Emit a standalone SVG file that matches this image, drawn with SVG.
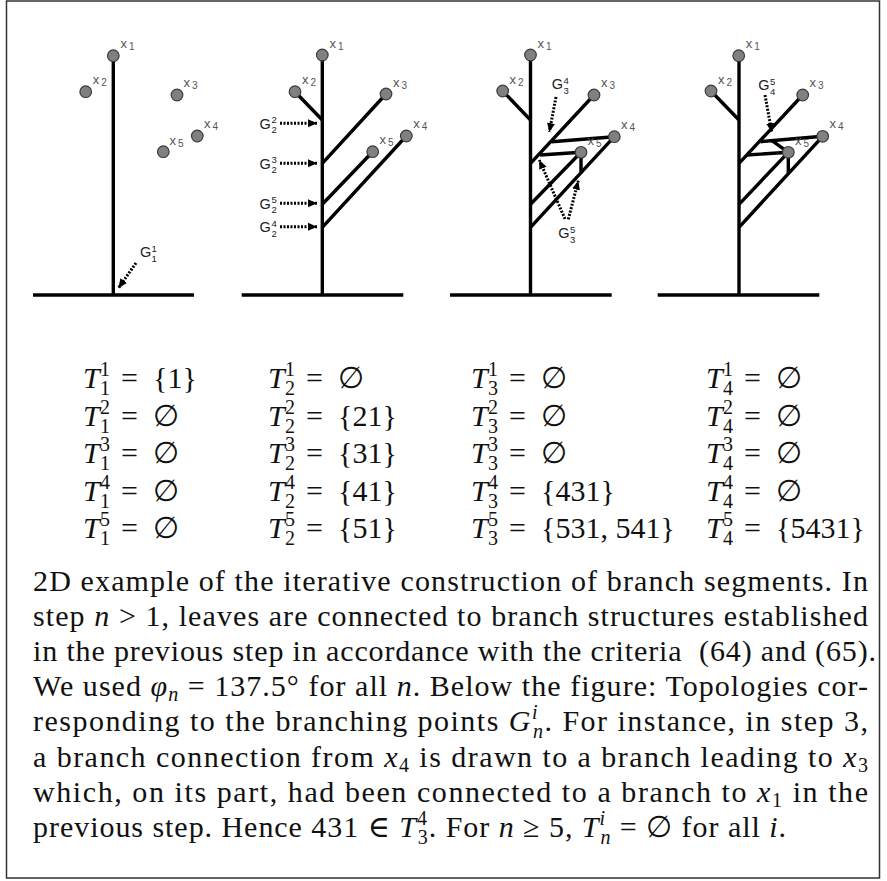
<svg xmlns="http://www.w3.org/2000/svg" width="887" height="881" viewBox="0 0 887 881">
<style>
.frame{fill:#fff;stroke:#333;stroke-width:1.5}
.br{stroke:#000;stroke-width:3.4;fill:none;stroke-linecap:butt}
.gr{stroke:#000;stroke-width:3.4}
.leaf circle{fill:#808080;stroke:#3a3a3a;stroke-width:1.2}
.lbl{font-family:"Liberation Sans",Arial,sans-serif;font-size:13px;fill:#555}
.lbl .d{font-size:10px}
.g{font-family:"Liberation Sans",Arial,sans-serif;font-size:14.5px;fill:#222}
.g .s{font-size:9.5px}
.dot{stroke:#000;stroke-width:3;stroke-dasharray:2 1.5;fill:none}
.m{font-family:"Liberation Serif","DejaVu Serif",serif;font-size:30px;fill:#111}
.it{font-style:italic}
.sm{font-size:20px}
.cap{font-family:"Liberation Serif","DejaVu Serif",serif;font-size:30px;fill:#111}
</style>
<defs>
<marker id="ah" markerWidth="10" markerHeight="10" refX="9" refY="5" orient="auto" markerUnits="userSpaceOnUse">
<path d="M0,1 L9,5 L0,9 z" fill="#000"/>
</marker>
</defs>
<rect class="frame" x="6.5" y="1" width="873" height="877"/>

<!-- Panel 1 -->
<g id="panel1">
<g id="p1-connectors">
<line class="gr" x1="33" y1="295" x2="194" y2="295"/>
<line class="br" x1="113.3" y1="56" x2="113.3" y2="295"/>
<line class="dot" x1="136" y1="263" x2="118.5" y2="288" marker-end="url(#ah)"/>
</g>
<g id="p1-x1" class="leaf"><circle cx="113.3" cy="55.7" r="5.8"/><text class="lbl" x="120.5" y="48">x<tspan class="d" dx="2" dy="2">1</tspan></text></g>
<g id="p1-x2" class="leaf"><circle cx="85.7" cy="91.7" r="5.8"/><text class="lbl" x="92.7" y="84">x<tspan class="d" dx="2" dy="2">2</tspan></text></g>
<g id="p1-x3" class="leaf"><circle cx="177" cy="95" r="5.8"/><text class="lbl" x="183.5" y="87">x<tspan class="d" dx="2" dy="2">3</tspan></text></g>
<g id="p1-x4" class="leaf"><circle cx="197.3" cy="136" r="5.8"/><text class="lbl" x="204" y="127.5">x<tspan class="d" dx="2" dy="2">4</tspan></text></g>
<g id="p1-x5" class="leaf"><circle cx="163.3" cy="151.7" r="5.8"/><text class="lbl" x="169.5" y="144.5">x<tspan class="d" dx="2" dy="2">5</tspan></text></g>
<g id="p1-G11"><text class="g" x="140" y="257">G<tspan class="s" x="151.5" dy="-5.5">1</tspan><tspan class="s" x="151.5" dy="10">1</tspan></text></g>
</g>

<!-- Panel 2 -->
<g id="panel2">
<g id="p2-connectors">
<line class="gr" x1="241.7" y1="295" x2="403.3" y2="295"/>
<line class="br" x1="322.3" y1="55" x2="322.3" y2="295"/>
<line class="br" x1="295" y1="91.7" x2="322.3" y2="120"/>
<line class="br" x1="386" y1="94" x2="322.3" y2="163.3"/>
<line class="br" x1="372.7" y1="151.7" x2="322.3" y2="204.3"/>
<line class="br" x1="406.3" y1="136" x2="322.3" y2="227.3"/>
<line class="dot" x1="280" y1="123.3" x2="317" y2="123.3" marker-end="url(#ah)"/>
<line class="dot" x1="280" y1="163.3" x2="317" y2="163.3" marker-end="url(#ah)"/>
<line class="dot" x1="280" y1="203.3" x2="317" y2="203.3" marker-end="url(#ah)"/>
<line class="dot" x1="280" y1="226.7" x2="317" y2="226.7" marker-end="url(#ah)"/>
</g>
<g id="p2-x1" class="leaf"><circle cx="322.3" cy="55" r="5.8"/><text class="lbl" x="329.5" y="47.5">x<tspan class="d" dx="2" dy="2">1</tspan></text></g>
<g id="p2-x2" class="leaf"><circle cx="295" cy="91.7" r="5.8"/><text class="lbl" x="302" y="84">x<tspan class="d" dx="2" dy="2">2</tspan></text></g>
<g id="p2-x3" class="leaf"><circle cx="386" cy="94" r="5.8"/><text class="lbl" x="393" y="86.5">x<tspan class="d" dx="2" dy="2">3</tspan></text></g>
<g id="p2-x4" class="leaf"><circle cx="406.3" cy="136" r="5.8"/><text class="lbl" x="413.3" y="128">x<tspan class="d" dx="2" dy="2">4</tspan></text></g>
<g id="p2-x5" class="leaf"><circle cx="372.7" cy="151.7" r="5.8"/><text class="lbl" x="379.5" y="144">x<tspan class="d" dx="2" dy="2">5</tspan></text></g>
<g id="p2-G22"><text class="g" x="259.5" y="128.5">G<tspan class="s" x="271.5" dy="-5.5">2</tspan><tspan class="s" x="271.5" dy="10">2</tspan></text></g>
<g id="p2-G23"><text class="g" x="259.5" y="168.5">G<tspan class="s" x="271.5" dy="-5.5">3</tspan><tspan class="s" x="271.5" dy="10">2</tspan></text></g>
<g id="p2-G25"><text class="g" x="259.5" y="208.5">G<tspan class="s" x="271.5" dy="-5.5">5</tspan><tspan class="s" x="271.5" dy="10">2</tspan></text></g>
<g id="p2-G24"><text class="g" x="259.5" y="232">G<tspan class="s" x="271.5" dy="-5.5">4</tspan><tspan class="s" x="271.5" dy="10">2</tspan></text></g>
</g>

<!-- Panel 3 -->
<g id="panel3">
<g id="p3-connectors">
<line class="gr" x1="450" y1="295" x2="611.7" y2="295"/>
<line class="br" x1="530.5" y1="55" x2="530.5" y2="295"/>
<line class="br" x1="502.7" y1="91" x2="530.5" y2="120"/>
<line class="br" x1="594" y1="95" x2="530.5" y2="163.3"/>
<line class="br" x1="581" y1="152.3" x2="530.5" y2="204.3"/>
<line class="br" x1="614.3" y1="136.7" x2="530.5" y2="227.3"/>
<line class="br" x1="614.3" y1="136.7" x2="551.7" y2="141.7"/>
<line class="br" x1="581" y1="152.3" x2="540" y2="155"/>
<line class="br" x1="581" y1="152.3" x2="581" y2="173.3"/>
<line class="dot" x1="556" y1="97" x2="549.3" y2="132" marker-end="url(#ah)"/>
<line class="dot" x1="565" y1="219" x2="539.3" y2="160" marker-end="url(#ah)"/>
<line class="dot" x1="568.3" y1="219.3" x2="578.3" y2="180.7" marker-end="url(#ah)"/>
</g>
<g id="p3-x1" class="leaf"><circle cx="530.5" cy="55" r="5.8"/><text class="lbl" x="537.5" y="47.5">x<tspan class="d" dx="2" dy="2">1</tspan></text></g>
<g id="p3-x2" class="leaf"><circle cx="502.7" cy="91" r="5.8"/><text class="lbl" x="509.5" y="83.5">x<tspan class="d" dx="2" dy="2">2</tspan></text></g>
<g id="p3-x3" class="leaf"><circle cx="594" cy="95" r="5.8"/><text class="lbl" x="601" y="87">x<tspan class="d" dx="2" dy="2">3</tspan></text></g>
<g id="p3-x4" class="leaf"><circle cx="614.3" cy="136.7" r="5.8"/><text class="lbl" x="621" y="128.5">x<tspan class="d" dx="2" dy="2">4</tspan></text></g>
<g id="p3-x5" class="leaf"><circle cx="581" cy="152.3" r="5.8"/><text class="lbl" x="587.5" y="145">x<tspan class="d" dx="2" dy="2">5</tspan></text></g>
<g id="p3-G34"><text class="g" x="551.7" y="89.3">G<tspan class="s" x="563.5" dy="-5.5">4</tspan><tspan class="s" x="563.5" dy="10">3</tspan></text></g>
<g id="p3-G35"><text class="g" x="558.3" y="238.3">G<tspan class="s" x="570" dy="-5.5">5</tspan><tspan class="s" x="570" dy="10">3</tspan></text></g>
</g>

<!-- Panel 4 -->
<g id="panel4">
<g id="p4-connectors">
<line class="gr" x1="657.7" y1="295" x2="819.3" y2="295"/>
<line class="br" x1="739" y1="56" x2="739" y2="295"/>
<line class="br" x1="711" y1="91" x2="739" y2="120"/>
<line class="br" x1="802.7" y1="95" x2="739" y2="163.3"/>
<line class="br" x1="788.3" y1="152.3" x2="739" y2="204.3"/>
<line class="br" x1="822.7" y1="136.3" x2="739" y2="227.3"/>
<line class="br" x1="822.7" y1="136.3" x2="760.5" y2="141.7"/>
<line class="br" x1="788.3" y1="152.3" x2="747" y2="155"/>
<line class="br" x1="788.3" y1="152.3" x2="788.3" y2="173.3"/>
<line class="br" x1="788.3" y1="152.3" x2="772" y2="140.7"/>
<line class="dot" x1="765" y1="95" x2="771.7" y2="132" marker-end="url(#ah)"/>
</g>
<g id="p4-x1" class="leaf"><circle cx="738.7" cy="55.7" r="5.8"/><text class="lbl" x="745.7" y="48">x<tspan class="d" dx="2" dy="2">1</tspan></text></g>
<g id="p4-x2" class="leaf"><circle cx="711" cy="91" r="5.8"/><text class="lbl" x="718" y="83.5">x<tspan class="d" dx="2" dy="2">2</tspan></text></g>
<g id="p4-x3" class="leaf"><circle cx="802.7" cy="95" r="5.8"/><text class="lbl" x="809.5" y="87">x<tspan class="d" dx="2" dy="2">3</tspan></text></g>
<g id="p4-x4" class="leaf"><circle cx="822.7" cy="136.3" r="5.8"/><text class="lbl" x="829.5" y="128">x<tspan class="d" dx="2" dy="2">4</tspan></text></g>
<g id="p4-x5" class="leaf"><circle cx="788.3" cy="152.3" r="5.8"/><text class="lbl" x="795" y="145">x<tspan class="d" dx="2" dy="2">5</tspan></text></g>
<g id="p4-G45"><text class="g" x="758.3" y="90">G<tspan class="s" x="770" dy="-5.5">5</tspan><tspan class="s" x="770" dy="10">4</tspan></text></g>
</g>

<!-- Topology table -->
<g id="table" class="m">
<text y="388"><tspan x="83" class="it">T</tspan><tspan x="100" dy="-12" class="sm">1</tspan><tspan x="100" dy="19" class="sm">1</tspan><tspan x="121" dy="-7">=</tspan><tspan x="153">{1}</tspan></text>
<text y="425.5"><tspan x="83" class="it">T</tspan><tspan x="100" dy="-12" class="sm">2</tspan><tspan x="100" dy="19" class="sm">1</tspan><tspan x="121" dy="-7">=</tspan><tspan x="153">∅</tspan></text>
<text y="463"><tspan x="83" class="it">T</tspan><tspan x="100" dy="-12" class="sm">3</tspan><tspan x="100" dy="19" class="sm">1</tspan><tspan x="121" dy="-7">=</tspan><tspan x="153">∅</tspan></text>
<text y="500.5"><tspan x="83" class="it">T</tspan><tspan x="100" dy="-12" class="sm">4</tspan><tspan x="100" dy="19" class="sm">1</tspan><tspan x="121" dy="-7">=</tspan><tspan x="153">∅</tspan></text>
<text y="538"><tspan x="83" class="it">T</tspan><tspan x="100" dy="-12" class="sm">5</tspan><tspan x="100" dy="19" class="sm">1</tspan><tspan x="121" dy="-7">=</tspan><tspan x="153">∅</tspan></text>

<text y="388"><tspan x="268" class="it">T</tspan><tspan x="285" dy="-12" class="sm">1</tspan><tspan x="285" dy="19" class="sm">2</tspan><tspan x="306" dy="-7">=</tspan><tspan x="338">∅</tspan></text>
<text y="425.5"><tspan x="268" class="it">T</tspan><tspan x="285" dy="-12" class="sm">2</tspan><tspan x="285" dy="19" class="sm">2</tspan><tspan x="306" dy="-7">=</tspan><tspan x="338">{21}</tspan></text>
<text y="463"><tspan x="268" class="it">T</tspan><tspan x="285" dy="-12" class="sm">3</tspan><tspan x="285" dy="19" class="sm">2</tspan><tspan x="306" dy="-7">=</tspan><tspan x="338">{31}</tspan></text>
<text y="500.5"><tspan x="268" class="it">T</tspan><tspan x="285" dy="-12" class="sm">4</tspan><tspan x="285" dy="19" class="sm">2</tspan><tspan x="306" dy="-7">=</tspan><tspan x="338">{41}</tspan></text>
<text y="538"><tspan x="268" class="it">T</tspan><tspan x="285" dy="-12" class="sm">5</tspan><tspan x="285" dy="19" class="sm">2</tspan><tspan x="306" dy="-7">=</tspan><tspan x="338">{51}</tspan></text>

<text y="388"><tspan x="471" class="it">T</tspan><tspan x="488" dy="-12" class="sm">1</tspan><tspan x="488" dy="19" class="sm">3</tspan><tspan x="509" dy="-7">=</tspan><tspan x="541">∅</tspan></text>
<text y="425.5"><tspan x="471" class="it">T</tspan><tspan x="488" dy="-12" class="sm">2</tspan><tspan x="488" dy="19" class="sm">3</tspan><tspan x="509" dy="-7">=</tspan><tspan x="541">∅</tspan></text>
<text y="463"><tspan x="471" class="it">T</tspan><tspan x="488" dy="-12" class="sm">3</tspan><tspan x="488" dy="19" class="sm">3</tspan><tspan x="509" dy="-7">=</tspan><tspan x="541">∅</tspan></text>
<text y="500.5"><tspan x="471" class="it">T</tspan><tspan x="488" dy="-12" class="sm">4</tspan><tspan x="488" dy="19" class="sm">3</tspan><tspan x="509" dy="-7">=</tspan><tspan x="541">{431}</tspan></text>
<text y="538"><tspan x="471" class="it">T</tspan><tspan x="488" dy="-12" class="sm">5</tspan><tspan x="488" dy="19" class="sm">3</tspan><tspan x="509" dy="-7">=</tspan><tspan x="541">{531, 541}</tspan></text>

<text y="388"><tspan x="706" class="it">T</tspan><tspan x="723" dy="-12" class="sm">1</tspan><tspan x="723" dy="19" class="sm">4</tspan><tspan x="744" dy="-7">=</tspan><tspan x="776">∅</tspan></text>
<text y="425.5"><tspan x="706" class="it">T</tspan><tspan x="723" dy="-12" class="sm">2</tspan><tspan x="723" dy="19" class="sm">4</tspan><tspan x="744" dy="-7">=</tspan><tspan x="776">∅</tspan></text>
<text y="463"><tspan x="706" class="it">T</tspan><tspan x="723" dy="-12" class="sm">3</tspan><tspan x="723" dy="19" class="sm">4</tspan><tspan x="744" dy="-7">=</tspan><tspan x="776">∅</tspan></text>
<text y="500.5"><tspan x="706" class="it">T</tspan><tspan x="723" dy="-12" class="sm">4</tspan><tspan x="723" dy="19" class="sm">4</tspan><tspan x="744" dy="-7">=</tspan><tspan x="776">∅</tspan></text>
<text y="538"><tspan x="706" class="it">T</tspan><tspan x="723" dy="-12" class="sm">5</tspan><tspan x="723" dy="19" class="sm">4</tspan><tspan x="744" dy="-7">=</tspan><tspan x="776">{5431}</tspan></text>
</g>

<!-- Caption -->
<g id="caption" class="cap">
<text x="33" y="591" textLength="835" lengthAdjust="spacing">2D example of the iterative construction of branch segments. In</text>
<text x="33" y="626.1" textLength="835" lengthAdjust="spacing">step <tspan class="it">n</tspan> &gt; 1, leaves are connected to branch structures established</text>
<text x="33" y="661.2" textLength="843" lengthAdjust="spacing">in the previous step in accordance with the criteria&#160; (64) and (65).</text>
<text x="33" y="696.3" textLength="835" lengthAdjust="spacing">We used <tspan class="it">φ</tspan><tspan class="it sm" dy="5">n</tspan><tspan dy="-5"> = 137.5° for all </tspan><tspan class="it">n</tspan>. Below the figure: Topologies cor-</text>
<text x="33" y="731.4" textLength="835" lengthAdjust="spacing">responding to the branching points <tspan class="it">G</tspan><tspan class="it sm" dy="-12">i</tspan><tspan class="it sm" dx="-6" dy="19">n</tspan><tspan dy="-7">. For instance, in step 3,</tspan></text>
<text x="33" y="766.5" textLength="835" lengthAdjust="spacing">a branch connection from <tspan class="it">x</tspan><tspan class="sm" dy="5">4</tspan><tspan dy="-5"> is drawn to a branch leading to </tspan><tspan class="it">x</tspan><tspan class="sm" dy="5">3</tspan></text>
<text x="33" y="801.6" textLength="835" lengthAdjust="spacing">which, on its part, had been connected to a branch to <tspan class="it">x</tspan><tspan class="sm" dy="5">1</tspan><tspan dy="-5"> in the</tspan></text>
<text x="33" y="836.7" textLength="753" lengthAdjust="spacing">previous step. Hence 431 ∈ <tspan class="it">T</tspan><tspan class="sm" dy="-12">4</tspan><tspan class="sm" dx="-10" dy="19">3</tspan><tspan dy="-7">. For </tspan><tspan class="it">n</tspan> ≥ 5, <tspan class="it">T</tspan><tspan class="it sm" dy="-12">i</tspan><tspan class="it sm" dx="-5.5" dy="19">n</tspan><tspan dy="-7"> = ∅ for all </tspan><tspan class="it">i</tspan>.</text>
</g>
</svg>
